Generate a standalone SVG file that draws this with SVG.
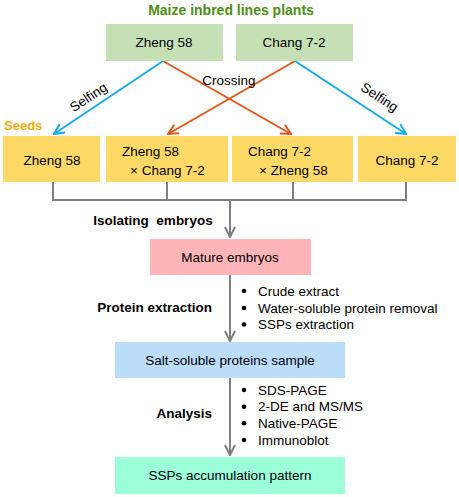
<svg xmlns="http://www.w3.org/2000/svg" width="459" height="497" viewBox="0 0 459 497">
<defs>
<style>
text{font-family:"Liberation Sans",Arial,sans-serif;font-size:13.5px;fill:#000}
.b{font-weight:bold}
.c{text-anchor:middle}
.g{fill:#c5e0b4}
.y{fill:#ffd966}
.blue{stroke:#14aaeb;stroke-width:2;fill:none}
.or{stroke:#e2561b;stroke-width:2;fill:none}
.gr{stroke:#7f7f7f;stroke-width:2;fill:none}
</style>
<marker id="ab" viewBox="0 0 12 12" refX="11" refY="6" markerWidth="12" markerHeight="12" markerUnits="userSpaceOnUse" orient="auto"><path d="M1,1 L11,6 L1,11" fill="none" stroke="#14aaeb" stroke-width="2"/></marker>
<marker id="ao" viewBox="0 0 12 12" refX="11" refY="6" markerWidth="12" markerHeight="12" markerUnits="userSpaceOnUse" orient="auto"><path d="M1,1 L11,6 L1,11" fill="none" stroke="#e2561b" stroke-width="2"/></marker>
<marker id="ag" viewBox="0 0 12 12" refX="11" refY="6" markerWidth="12" markerHeight="12" markerUnits="userSpaceOnUse" orient="auto"><path d="M1,1 L11,6 L1,11" fill="none" stroke="#7f7f7f" stroke-width="2"/></marker>
</defs>
<rect width="459" height="497" fill="#fff"/>
<text x="231" y="15" class="b c" style="fill:#4e8f16;font-size:14px">Maize inbred lines plants</text>
<text x="4" y="130" class="b" style="fill:#f3ab0c;font-size:13px">Seeds</text>
<g id="connectors">
<path class="blue" d="M163,61 L54,134" marker-end="url(#ab)"/>
<path class="or" d="M163,61 L291,134" marker-end="url(#ao)"/>
<path class="or" d="M295,61 L168,134" marker-end="url(#ao)"/>
<path class="blue" d="M295,61 L406,134" marker-end="url(#ab)"/>
<path class="gr" d="M53,182 V200 H406 V182 M167,182 V200 M293,182 V200"/>
<path class="gr" d="M230,200 V237" marker-end="url(#ag)"/>
<path class="gr" d="M230,275 V341" marker-end="url(#ag)"/>
<path class="gr" d="M230,378 V455" marker-end="url(#ag)"/>
<text x="229" y="85" class="c">Crossing</text>
<text x="0" y="0" class="c" transform="translate(91,101) rotate(-33.7)">Selfing</text>
<text x="0" y="0" class="c" transform="translate(377,101) rotate(33.7)">Selfing</text>
<text x="153" y="225" class="c b" style="white-space:pre" xml:space="preserve">Isolating  embryos</text>
<text x="212" y="312" class="b" text-anchor="end">Protein extraction</text>
<text x="212" y="418" class="b" text-anchor="end">Analysis</text>
</g>
<g id="top-zheng"><rect x="106" y="24" width="117" height="37" class="g"/><text x="164" y="47" class="c">Zheng 58</text></g>
<g id="top-chang"><rect x="236" y="24" width="117" height="37" class="g"/><text x="294" y="47" class="c">Chang 7-2</text></g>
<g id="seed-zheng"><rect x="3" y="136" width="97" height="46" class="y"/><text x="52" y="165" class="c">Zheng 58</text></g>
<g id="seed-zxc"><rect x="106" y="136" width="122" height="46" class="y"/><text x="122" y="156">Zheng 58</text><text x="130" y="175">× Chang 7-2</text></g>
<g id="seed-cxz"><rect x="232" y="136" width="121" height="46" class="y"/><text x="248" y="156">Chang 7-2</text><text x="259" y="175">× Zheng 58</text></g>
<g id="seed-chang"><rect x="358" y="136" width="98" height="46" class="y"/><text x="407" y="165" class="c">Chang 7-2</text></g>
<g id="mature"><rect x="150" y="239" width="161" height="36" fill="#ffb5b8"/><text x="230" y="262" class="c">Mature embryos</text></g>
<g id="bullets1">
<circle cx="244" cy="291" r="2.3"/><text x="258" y="295.5">Crude extract</text>
<circle cx="244" cy="308" r="2.3"/><text x="258" y="312.5">Water-soluble protein removal</text>
<circle cx="244" cy="324.5" r="2.3"/><text x="258" y="329">SSPs extraction</text>
</g>
<g id="salt"><rect x="115" y="342" width="230" height="36" fill="#bcdcfb"/><text x="230" y="365" class="c">Salt-soluble proteins sample</text></g>
<g id="bullets2">
<circle cx="244" cy="390" r="2.3"/><text x="258" y="394.5">SDS-PAGE</text>
<circle cx="244" cy="406.7" r="2.3"/><text x="258" y="411.2">2-DE and MS/MS</text>
<circle cx="244" cy="423.3" r="2.3"/><text x="258" y="427.8">Native-PAGE</text>
<circle cx="244" cy="440" r="2.3"/><text x="258" y="444.5">Immunoblot</text>
</g>
<g id="ssps"><rect x="115" y="457" width="230" height="37" fill="#9bffda"/><text x="230" y="480" class="c">SSPs accumulation pattern</text></g>
</svg>
